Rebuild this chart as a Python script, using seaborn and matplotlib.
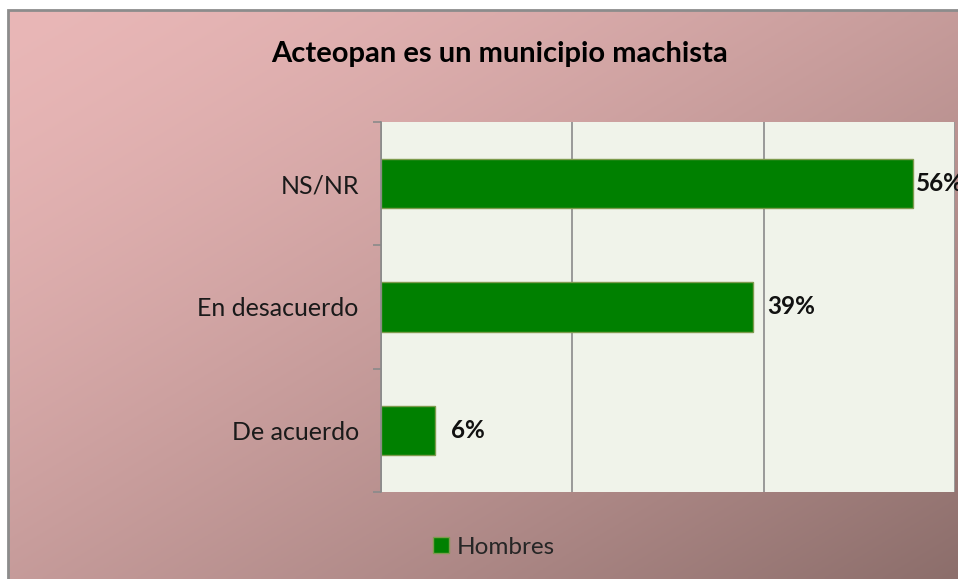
import numpy as np
import pandas as pd
import matplotlib
matplotlib.use("Agg")
import matplotlib.pyplot as plt
from matplotlib.patches import Rectangle
import seaborn as sns

# ---- data ----
categories = ["NS/NR", "En desacuerdo", "De acuerdo"]
values = [55.6, 38.9, 5.6]
value_labels = ["56%", "39%", "6%"]
series_name = "Hombres"
title = "Acteopan es un municipio machista"

df = pd.DataFrame({"cat": categories, "val": values, "serie": [series_name] * len(categories)})

sns.set_theme(style="white")
plt.rcParams["font.family"] = ["Lato", "DejaVu Sans"]

W, H = 958, 579
fig = plt.figure(figsize=(W / 100, H / 100), dpi=100)
fig.patch.set_facecolor("white")

# gradient background
bg = fig.add_axes([8 / W, 0, 1 - 8 / W, 1 - 10 / H], zorder=-5)
ny, nx = 200, 300
yy, xx = np.mgrid[0:1:ny * 1j, 0:1:nx * 1j]
t = ((xx + yy) / 2) ** 1.4
c0 = np.array([233, 183, 183]) / 255
c1 = np.array([140, 110, 107]) / 255
img = c0[None, None, :] + (c1 - c0)[None, None, :] * t[..., None]
bg.imshow(img, aspect="auto", extent=[0, 1, 0, 1], origin="upper")
bg.set_axis_off()
fig.patches.append(Rectangle((8 / W, -0.05), 1.1, 1 - 10 / H + 0.05, transform=fig.transFigure,
                             fill=False, edgecolor="#8c8c8c", lw=2, zorder=-4))

# main axes
ax = fig.add_axes([381 / W, 1 - 492 / H, (955 - 381) / W, (492 - 122) / H])
ax.set_facecolor("#F0F3EA")
sns.barplot(data=df, x="val", y="cat", hue="serie", palette=["#008000"], orient="h",
            width=0.4, ax=ax, edgecolor="#7E9B4E", linewidth=1, saturation=1)

ax.set_xlim(0, 60)
ax.set_xticks([0, 20, 40, 60])
ax.set_xticklabels([])
ax.tick_params(axis="x", length=0)
ax.xaxis.grid(True, color="#8a8a8a", lw=1.2)
ax.set_axisbelow(True)
ax.set_xlabel("")
ax.set_ylabel("")
ax.set_ylim(2.5, -0.5)
ax.set_yticks(range(len(categories)))
ax.set_yticklabels(categories, fontsize=18, color="#1a1a1a")
ax.tick_params(axis="y", which="major", length=0, pad=16)
ax.set_yticks([-0.5, 0.5, 1.5, 2.5], minor=True)
ax.tick_params(axis="y", which="minor", length=6, width=1.2, color="#8a8a8a", left=True)
for s in ["top", "right", "bottom"]:
    ax.spines[s].set_visible(False)
ax.spines["left"].set_color("#8a8a8a")
ax.spines["left"].set_linewidth(1.2)

pads = [2, 10, 12]
for p, lab, pd_ in zip(ax.patches, value_labels, pads):
    ax.annotate(lab, (p.get_x() + p.get_width(), p.get_y() + p.get_height() / 2),
                xytext=(pd_, 0), textcoords="offset points", va="center", ha="left",
                fontsize=17.5, fontweight="bold", color="#111111", annotation_clip=False, clip_on=False)

sns.move_legend(ax, loc="center", bbox_to_anchor=(494 / W, 1 - 547 / H), bbox_transform=fig.transFigure,
                frameon=False, title=None, fontsize=17.5, handlelength=0.65, handleheight=0.65,
                handletextpad=0.3)

fig.text(500 / W, 1 - 54 / H, title, ha="center", va="center", fontsize=21, fontweight="bold", color="#000000")

fig.savefig("out.png", dpi=100)
